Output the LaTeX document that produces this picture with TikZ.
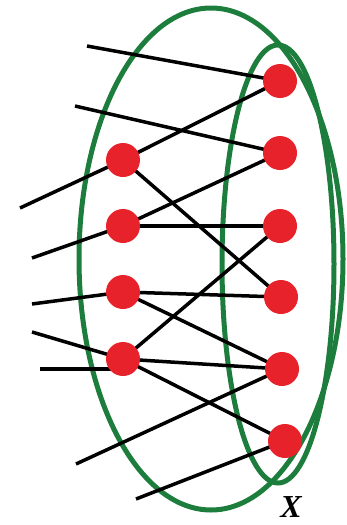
\documentclass[tikz,border=0pt]{standalone}
\usepackage{fontspec}
\setmainfont{Liberation Serif}
\begin{document}
\begin{tikzpicture}[x=1pt,y=-1pt,
  vtx/.style={circle,fill=dotred,draw=none,minimum size=34pt,inner sep=0pt},
  edge/.style={line width=3.5pt,black},
  ring/.style={line width=5pt,draw=ringgreen}]
\definecolor{dotred}{HTML}{E8222B}
\definecolor{ringgreen}{HTML}{1D7D3C}
\useasboundingbox (0,0) rectangle (347,525);
% ellipses
\draw[ring] (211,259) ellipse [x radius=132, y radius=251];
\draw[ring] (278,264) ellipse [x radius=56, y radius=219];
% nodes
\coordinate (R1) at (280,81);
\coordinate (R2) at (280,153);
\coordinate (R3) at (280,226);
\coordinate (R4) at (281,297);
\coordinate (R5) at (282,369);
\coordinate (R6) at (285,441);
\coordinate (L1) at (123,160);
\coordinate (L2) at (123,226);
\coordinate (L3) at (123,292);
\coordinate (L4) at (123,359);
% free ends
\coordinate (f1) at (87,46);
\coordinate (f2) at (75,106);
\coordinate (f3) at (20,208);
\coordinate (f4) at (32,258);
\coordinate (f5) at (32,304);
\coordinate (f6) at (32,332);
\coordinate (f7) at (40,369);
\coordinate (f8) at (76,464);
\coordinate (f9) at (136,499);
% edges
\draw[edge] (f1) -- (R1);
\draw[edge] (f2) -- (R2);
\draw[edge] (f3) -- (L1);
\draw[edge] (L1) -- (R1);
\draw[edge] (L1) -- (R4);
\draw[edge] (f4) -- (L2);
\draw[edge] (L2) -- (R2);
\draw[edge] (L2) -- (R3);
\draw[edge] (f5) -- (L3);
\draw[edge] (L3) -- (R4);
\draw[edge] (L3) -- (R5);
\draw[edge] (f6) -- (L4);
\draw[edge] (f7) -- ([yshift=-10pt]L4);
\draw[edge] (L4) -- (R3);
\draw[edge] (L4) -- (R5);
\draw[edge] (L4) -- (R6);
\draw[edge] (f8) -- (R5);
\draw[edge] (f9) -- (R6);
\foreach \n in {R1,R2,R3,R4,R5,R6,L1,L2,L3,L4}
  \node[vtx] (n\n) at (\n) {};
\node[font=\fontsize{32}{36}\selectfont\bfseries\itshape,inner sep=0pt] (xlabel) at (291,507) {X};
\end{tikzpicture}
\end{document}
